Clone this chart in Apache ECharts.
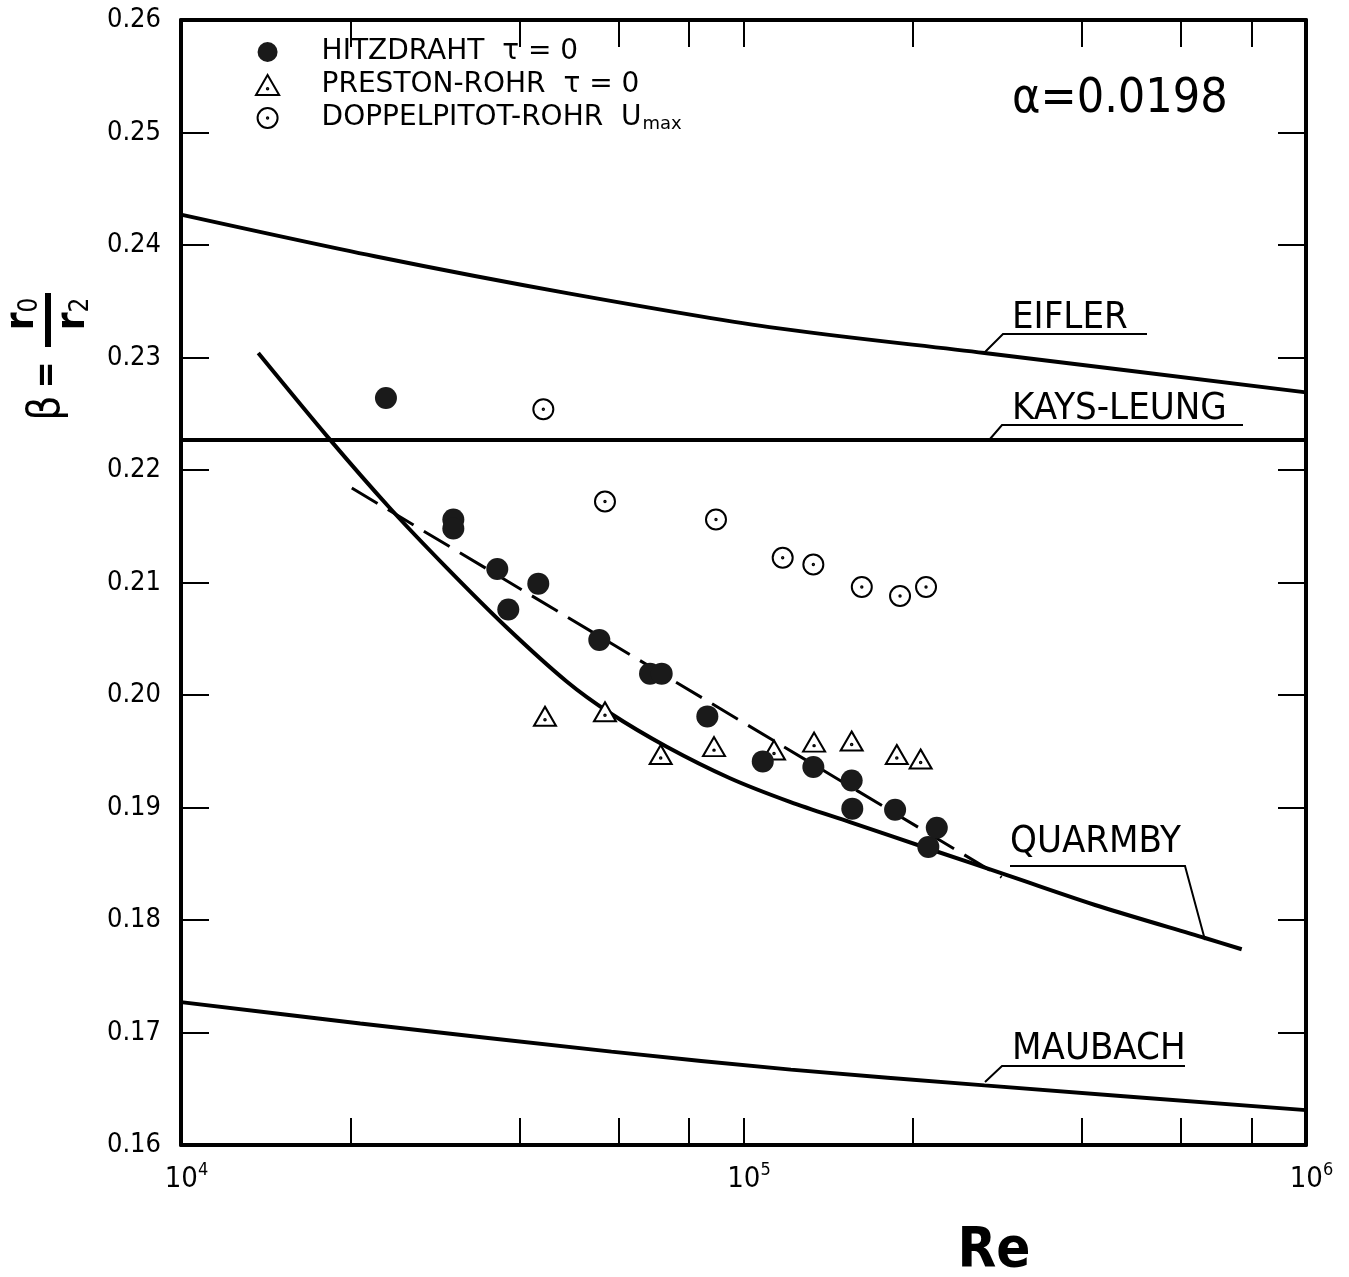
<!DOCTYPE html>
<html><head><meta charset="utf-8">
<script src="https://cdn.jsdelivr.net/npm/echarts@6/dist/echarts.min.js"></script>
<style>html,body{margin:0;padding:0;background:#fff}#c{width:1349px;height:1277px}</style>
</head><body><div id="c"></div>
<script>
// ---- data ----
const hitzRe   = [23140, 30490, 30490, 36500, 38180, 43170, 55420, 68210, 71540, 86240, 108200, 133100, 155700, 156100, 186000, 213100, 220600];
const hitzBeta = [0.2264, 0.2156, 0.2148, 0.2112, 0.2076, 0.2099, 0.2049, 0.2019, 0.2019, 0.1981, 0.1941, 0.1936, 0.1924, 0.1899, 0.1898, 0.1865, 0.1882];

const prestonRe   = [44370, 56720, 71250, 88630, 113300, 133500, 155700, 187300, 206500];
const prestonBeta = [0.1978, 0.1982, 0.1944, 0.1951, 0.1948, 0.1955, 0.1956, 0.1944, 0.1940];

const pitotRe   = [44070, 56720, 89350, 117400, 133100, 162300, 189800, 211100];
const pitotBeta = [0.2254, 0.2172, 0.2156, 0.2122, 0.2116, 0.2096, 0.2088, 0.2096];

const eiflerRe   = [10000, 22100, 48840, 111150, 268200, 1000000];
const eiflerBeta = [0.2427, 0.2390, 0.2357, 0.2327, 0.2304, 0.2269];

const kaysRe   = [10000, 1000000];
const kaysBeta = [0.22267, 0.22267];

const maubachRe   = [10000, 20830, 58230, 121400, 268200, 1000000];
const maubachBeta = [0.1727, 0.1708, 0.1683, 0.1667, 0.1653, 0.1631];

const quarmbyRe   = [13720, 18400, 23530, 29680, 37940, 48490, 57890, 73030, 94630, 120940, 154640, 217300, 297700, 430300, 661400, 768600];
const quarmbyBeta = [0.2304, 0.2227, 0.2166, 0.2113, 0.2060, 0.2012, 0.1984, 0.1954, 0.1926, 0.1905, 0.1887, 0.1862, 0.1839, 0.1812, 0.1784, 0.1774];

const dashedRe   = [20120, 287700];
const dashedBeta = [0.2184, 0.1838];

const xTickValues  = [20000, 40000, 60000, 80000, 100000, 200000, 400000, 600000, 800000];
const xLabelValues = [10000, 100000, 1000000];
const yMin = 0.16, yMax = 0.26, yStep = 0.01;

const nameHitz = 'HITZDRAHT  \u03c4 = 0';
const namePreston = 'PRESTON-ROHR  \u03c4 = 0';
const namePitot = 'DOPPELPITOT-ROHR  Umax';

// ---- helpers ----
function zip(a, b) { return a.map((v, i) => [v, b[i]]); }
const FC = '"DejaVu Sans Condensed", "DejaVu Sans", sans-serif';
const FN = '"DejaVu Sans", sans-serif';
const circleDot = 'path://M10,0A10,10,0,1,1,-10,0A10,10,0,1,1,10,0ZM0.7,0A0.7,0.7,0,1,1,-0.7,0A0.7,0.7,0,1,1,0.7,0Z';
const triDot = 'path://M0,-10L11,9L-11,9ZM0.7,3A0.7,0.7,0,1,1,-0.7,3A0.7,0.7,0,1,1,0.7,3Z';

const chart = echarts.init(document.getElementById('c'), null, {renderer: 'canvas'});

function lineSeries(name, re, beta, extra) {
  return Object.assign({
    name: name, type: 'line', data: zip(re, beta), symbol: 'none', showSymbol: false,
    smooth: 0.3, lineStyle: {color: '#000', width: 4}, z: 2, silent: true
  }, extra || {});
}

const xAxisCommon = {
  type: 'log', logBase: 10, min: 10000, max: 1000000,
  axisLine: {show: true, onZero: false, lineStyle: {color: '#000', width: 4}},
  axisTick: {show: true, inside: true, length: 27, lineStyle: {color: '#000', width: 2}, customValues: xTickValues},
  splitLine: {show: false}, minorTick: {show: false}
};
const yAxisCommon = {
  type: 'value', min: yMin, max: yMax, interval: yStep,
  axisLine: {show: true, onZero: false, lineStyle: {color: '#000', width: 4}},
  axisTick: {show: true, inside: true, length: 28, lineStyle: {color: '#000', width: 2}},
  splitLine: {show: false}
};

const option = {
  backgroundColor: '#fff',
  animation: false,
  grid: {left: 181, right: 43, top: 20, bottom: 132, containLabel: false},
  xAxis: [
    Object.assign({}, xAxisCommon, {
      position: 'bottom',
      axisLabel: {
        show: true, margin: 16, customValues: xLabelValues,
        formatter: function (v) { return '{b|10}{s|' + Math.round(Math.log10(v)) + '}'; },
        rich: {
          b: {fontFamily: FC, fontSize: 29, color: '#000', padding: [0, 0, 0, 11]},
          s: {fontFamily: FC, fontSize: 18, color: '#000', padding: [0, 0, 18, 0]}
        }
      }
    }),
    Object.assign({}, xAxisCommon, {position: 'top', axisLabel: {show: false}})
  ],
  yAxis: [
    Object.assign({}, yAxisCommon, {
      position: 'left',
      axisLabel: {show: true, margin: 20, fontFamily: FC, fontSize: 27, color: '#000',
        formatter: function (v) { return v.toFixed(2); }}
    }),
    Object.assign({}, yAxisCommon, {position: 'right', axisLabel: {show: false}})
  ],
  legend: {
    show: true, orient: 'vertical', left: 255, top: 38, padding: 0,
    itemWidth: 80, itemHeight: 20, itemGap: 5, selectedMode: false,
    data: [nameHitz, namePreston, namePitot],
    formatter: function (name) {
      if (name === namePitot) return '{a|DOPPELPITOT-ROHR  U}{s|max}';
      return '{a|' + name + '}';
    },
    textStyle: {
      color: '#000', padding: [0, 0, 0, 9],
      rich: {
        a: {fontFamily: FN, fontSize: 28, color: '#000', lineHeight: 30},
        s: {fontFamily: FN, fontSize: 18, color: '#000', padding: [12, 0, 0, 1]}
      }
    }
  },
  series: [
    lineSeries('EIFLER', eiflerRe, eiflerBeta),
    lineSeries('KAYS-LEUNG', kaysRe, kaysBeta, {smooth: false}),
    lineSeries('MAUBACH', maubachRe, maubachBeta),
    lineSeries('QUARMBY', quarmbyRe, quarmbyBeta),
    lineSeries('dashed', dashedRe, dashedBeta, {smooth: false, lineStyle: {color: '#000', width: 3, type: [30, 12]}}),
    {
      name: namePitot, type: 'scatter', data: zip(pitotRe, pitotBeta),
      symbol: circleDot, symbolSize: 20, symbolKeepAspect: true,
      itemStyle: {color: '#fff', borderColor: '#000', borderWidth: 2, opacity: 1}, z: 4
    },
    {
      name: namePreston, type: 'scatter', data: zip(prestonRe, prestonBeta),
      symbol: triDot, symbolSize: [22, 19], symbolOffset: [0, -3.5],
      itemStyle: {color: '#fff', borderColor: '#000', borderWidth: 2, opacity: 1}, z: 4
    },
    {
      name: nameHitz, type: 'scatter', data: zip(hitzRe, hitzBeta),
      symbol: 'circle', symbolSize: 22,
      itemStyle: {color: '#1a1a1a', opacity: 1}, z: 5
    }
  ],
  graphic: [
    {type: 'text', x: 1012, y: 100, style: {text: '\u03b1=0.0198', font: '48px ' + FC, fill: '#000', align: 'left', verticalAlign: 'middle'}},
    {type: 'text', x: 1012, y: 318, style: {text: 'EIFLER', font: '38px ' + FC, fill: '#000', align: 'left', verticalAlign: 'middle'}},
    {type: 'polyline', shape: {points: [[985, 352], [1003, 334], [1147, 334]]}, style: {stroke: '#000', lineWidth: 2, fill: null}},
    {type: 'text', x: 1012, y: 409, style: {text: 'KAYS-LEUNG', font: '38px ' + FC, fill: '#000', align: 'left', verticalAlign: 'middle'}},
    {type: 'polyline', shape: {points: [[990, 439], [1002, 425], [1243, 425]]}, style: {stroke: '#000', lineWidth: 2, fill: null}},
    {type: 'text', x: 1010, y: 842, style: {text: 'QUARMBY', font: '38px ' + FC, fill: '#000', align: 'left', verticalAlign: 'middle'}},
    {type: 'polyline', shape: {points: [[1010, 866], [1185, 866], [1205, 940]]}, style: {stroke: '#000', lineWidth: 2, fill: null}},
    {type: 'text', x: 1012, y: 1049, style: {text: 'MAUBACH', font: '38px ' + FC, fill: '#000', align: 'left', verticalAlign: 'middle'}},
    {type: 'polyline', shape: {points: [[985, 1082], [1002, 1066], [1185, 1066]]}, style: {stroke: '#000', lineWidth: 2, fill: null}},
    {type: 'text', x: 994, y: 1251, style: {text: 'Re', font: 'bold 56px ' + FC, fill: '#000', align: 'center', verticalAlign: 'middle'}},
    {
      type: 'group', x: 48, y: 360, rotation: Math.PI / 2,
      children: [
        {type: 'text', x: -48, y: 0, style: {text: '\u03b2', font: '44px ' + FC, fill: '#000', align: 'center', verticalAlign: 'middle'}},
        {type: 'text', x: -15, y: 0, style: {text: '=', font: 'bold 36px ' + FC, fill: '#000', align: 'center', verticalAlign: 'middle'}},
        {type: 'rect', shape: {x: 13, y: -3, width: 54, height: 6}, style: {fill: '#000'}},
        {type: 'text', x: 46, y: -25, style: {text: '{r|r}{s|0}', font: '40px ' + FC, fill: '#000', align: 'center', verticalAlign: 'middle',
          rich: {r: {fontFamily: FC, fontSize: 40, fontWeight: 'bold', fill: '#000'}, s: {fontFamily: FC, fontSize: 26, fill: '#000', padding: [14, 0, 0, 0]}}}},
        {type: 'text', x: 46, y: 26, style: {text: '{r|r}{s|2}', font: '40px ' + FC, fill: '#000', align: 'center', verticalAlign: 'middle',
          rich: {r: {fontFamily: FC, fontSize: 40, fontWeight: 'bold', fill: '#000'}, s: {fontFamily: FC, fontSize: 26, fill: '#000', padding: [14, 0, 0, 0]}}}}
      ]
    }
  ]
};
chart.setOption(option);
</script>
</body></html>
